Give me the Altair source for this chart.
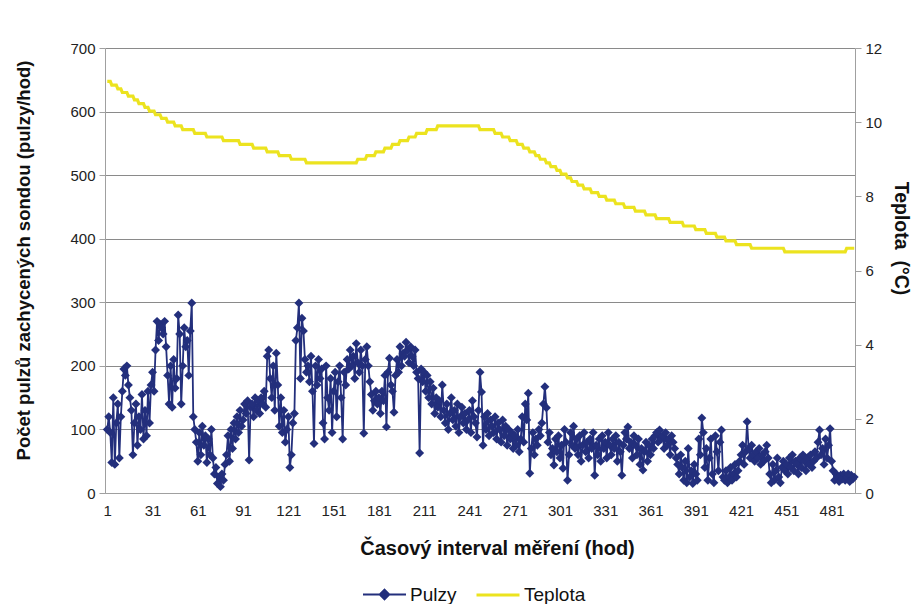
import altair as alt
import pandas as pd

# Pulzy (pulzy/hod) – one value per hour
pulzy = [
    100, 120, 95, 48, 150, 45, 110, 140, 55, 120,
    160, 195, 185, 200, 170, 150, 130, 60, 110, 140,
    75, 120, 100, 155, 85, 130, 90, 160, 110, 170,
    190, 160, 225, 270, 240, 265, 260, 250, 270, 230,
    185, 140, 200, 135, 210, 165, 180, 280, 250, 140,
    200, 260, 230, 240, 185, 255, 299, 120, 100, 80,
    50, 95, 60, 105, 75, 90, 48, 85, 60, 100,
    55, 30, 40, 15, 25, 10, 30, 20, 45, 60,
    90, 50, 100, 70, 110, 85, 120, 95, 130, 105,
    115, 140, 125, 145, 52, 135, 140, 120, 150, 130,
    145, 125, 150, 140, 160, 135, 215, 225, 180, 150,
    200, 130, 220, 170, 105, 150, 95, 130, 80, 100,
    120, 40, 60, 110, 125, 240, 260, 299, 180, 275,
    255, 210, 190, 200, 175, 215, 160, 78, 200, 170,
    210, 180, 195, 110, 85, 200, 150, 130, 180, 95,
    160, 190, 120, 175, 200, 150, 85, 190, 170, 210,
    195, 225, 200, 215, 180, 235, 205, 190, 225, 200,
    94, 210, 230, 200, 175, 155, 130, 145, 160, 140,
    150, 125, 160, 145, 185, 104, 190, 212, 170, 160,
    127, 185, 210, 190, 230, 200, 220, 215, 237, 225,
    205, 230, 215, 200, 225, 190, 180, 63, 195, 175,
    190, 160, 185, 150, 175, 140, 165, 125, 150, 135,
    145, 120, 170, 130, 110, 140, 100, 125, 150, 115,
    130, 105, 140, 95, 120, 135, 110, 125, 100, 115,
    130, 95, 145, 120, 110, 88, 130, 190, 159, 75,
    120, 100, 125, 90, 115, 105, 95, 120, 85, 110,
    100, 80, 115, 90, 105, 75, 100, 85, 95, 70,
    90, 75, 100, 65, 85, 120, 80, 140, 115, 157,
    31, 70, 95, 60, 85, 75, 100, 90, 110, 140,
    167, 134, 80, 95, 60, 70, 44, 85, 65, 90,
    55, 75, 39, 100, 80, 20, 60, 95, 75, 105,
    70, 85, 60, 90, 50, 75, 95, 65, 80, 55,
    85, 70, 95, 28, 75, 60, 85, 50, 90, 70,
    80, 55, 95, 75, 60, 85, 70, 90, 50, 80,
    65, 28, 75, 95, 85, 104, 70, 80, 55, 90,
    75, 60, 85, 45, 70, 36, 65, 80, 50, 75,
    60, 85, 70, 90, 95, 80, 99, 85, 90, 70,
    95, 75, 85, 60, 90, 80, 70, 55, 45, 30,
    60, 40, 20, 50, 16, 70, 25, 35, 15, 45,
    30, 20, 85, 60, 118, 95, 40, 70, 20, 55,
    85, 30, 16, 90, 65, 35, 80, 99, 25, 20,
    35, 16, 25, 40, 20, 30, 45, 25, 35, 50,
    60, 75, 45, 65, 112, 70, 55, 75, 60, 50,
    65, 55, 70, 45, 60, 50, 65, 75, 55, 30,
    16, 45, 20, 35, 55, 25, 16, 40, 50, 35,
    45, 30, 55, 40, 60, 35, 50, 45, 30, 55,
    40, 60, 50, 35, 55, 45, 60, 40, 50, 65,
    55, 80, 99, 60, 70, 45, 85, 55, 75, 101,
    50, 35, 20, 30, 25, 18, 28, 22, 30, 20,
    25, 30, 18, 28, 22, 25,
]

# Teplota (°C) – one value per hour
teplota = [
    11.1, 11.1, 11.1,
    11.0, 11.0, 11.0, 11.0,
    10.9, 10.9, 10.9,
    10.8, 10.8, 10.8, 10.8,
    10.7, 10.7, 10.7, 10.7,
    10.6, 10.6, 10.6,
    10.5, 10.5, 10.5, 10.5,
    10.4, 10.4, 10.4,
    10.3, 10.3, 10.3, 10.3,
    10.2, 10.2, 10.2, 10.2,
    10.1, 10.1, 10.1, 10.1,
    10.0, 10.0, 10.0, 10.0, 10.0,
    9.9, 9.9, 9.9, 9.9, 9.9,
    9.8, 9.8, 9.8, 9.8, 9.8, 9.8, 9.8, 9.8,
    9.7, 9.7, 9.7, 9.7, 9.7, 9.7, 9.7, 9.7,
    9.6, 9.6, 9.6, 9.6, 9.6, 9.6, 9.6, 9.6, 9.6, 9.6, 9.6,
    9.5, 9.5, 9.5, 9.5, 9.5, 9.5, 9.5, 9.5, 9.5, 9.5, 9.5,
    9.4, 9.4, 9.4, 9.4, 9.4, 9.4, 9.4, 9.4, 9.4,
    9.3, 9.3, 9.3, 9.3, 9.3, 9.3, 9.3, 9.3, 9.3,
    9.2, 9.2, 9.2, 9.2, 9.2, 9.2, 9.2, 9.2,
    9.1, 9.1, 9.1, 9.1, 9.1, 9.1, 9.1, 9.1,
    9.0, 9.0, 9.0, 9.0, 9.0, 9.0, 9.0, 9.0, 9.0, 9.0,
    8.9, 8.9, 8.9, 8.9, 8.9, 8.9, 8.9, 8.9, 8.9, 8.9,
    8.9, 8.9, 8.9, 8.9, 8.9, 8.9, 8.9, 8.9, 8.9, 8.9,
    8.9, 8.9, 8.9, 8.9, 8.9, 8.9, 8.9, 8.9, 8.9, 8.9,
    8.9, 8.9, 8.9, 8.9,
    9.0, 9.0, 9.0, 9.0, 9.0, 9.0,
    9.1, 9.1, 9.1, 9.1, 9.1, 9.1,
    9.2, 9.2, 9.2, 9.2, 9.2, 9.2,
    9.3, 9.3, 9.3, 9.3, 9.3,
    9.4, 9.4, 9.4, 9.4, 9.4,
    9.5, 9.5, 9.5, 9.5, 9.5, 9.5,
    9.6, 9.6, 9.6, 9.6, 9.6,
    9.7, 9.7, 9.7, 9.7, 9.7, 9.7, 9.7,
    9.8, 9.8, 9.8, 9.8, 9.8, 9.8, 9.8,
    9.9, 9.9, 9.9, 9.9, 9.9, 9.9, 9.9, 9.9, 9.9, 9.9,
    9.9, 9.9, 9.9, 9.9, 9.9, 9.9, 9.9, 9.9, 9.9, 9.9,
    9.9, 9.9, 9.9, 9.9, 9.9, 9.9, 9.9, 9.9,
    9.8, 9.8, 9.8, 9.8, 9.8, 9.8, 9.8, 9.8, 9.8, 9.8,
    9.7, 9.7, 9.7, 9.7, 9.7,
    9.6, 9.6, 9.6, 9.6, 9.6,
    9.5, 9.5, 9.5, 9.5, 9.5,
    9.4, 9.4, 9.4, 9.4,
    9.3, 9.3, 9.3, 9.3,
    9.2, 9.2, 9.2, 9.2,
    9.1, 9.1, 9.1,
    9.0, 9.0, 9.0, 9.0,
    8.9, 8.9, 8.9,
    8.8, 8.8, 8.8, 8.8,
    8.7, 8.7, 8.7,
    8.6, 8.6, 8.6, 8.6,
    8.5, 8.5, 8.5,
    8.4, 8.4, 8.4, 8.4,
    8.3, 8.3, 8.3, 8.3,
    8.2, 8.2, 8.2, 8.2, 8.2,
    8.1, 8.1, 8.1, 8.1, 8.1,
    8.0, 8.0, 8.0, 8.0, 8.0,
    7.9, 7.9, 7.9, 7.9, 7.9, 7.9,
    7.8, 7.8, 7.8, 7.8, 7.8, 7.8,
    7.7, 7.7, 7.7, 7.7, 7.7, 7.7, 7.7,
    7.6, 7.6, 7.6, 7.6, 7.6, 7.6, 7.6,
    7.5, 7.5, 7.5, 7.5, 7.5, 7.5, 7.5,
    7.4, 7.4, 7.4, 7.4, 7.4, 7.4, 7.4, 7.4, 7.4,
    7.3, 7.3, 7.3, 7.3, 7.3, 7.3, 7.3, 7.3, 7.3,
    7.2, 7.2, 7.2, 7.2, 7.2, 7.2, 7.2, 7.2,
    7.1, 7.1, 7.1, 7.1, 7.1, 7.1, 7.1,
    7.0, 7.0, 7.0, 7.0, 7.0, 7.0, 7.0,
    6.9, 6.9, 6.9, 6.9, 6.9, 6.9,
    6.8, 6.8, 6.8, 6.8, 6.8, 6.8, 6.8,
    6.7, 6.7, 6.7, 6.7, 6.7, 6.7, 6.7, 6.7, 6.7, 6.7,
    6.6, 6.6, 6.6, 6.6, 6.6, 6.6, 6.6, 6.6, 6.6, 6.6,
    6.6, 6.6, 6.6, 6.6, 6.6, 6.6, 6.6, 6.6, 6.6, 6.6,
    6.6, 6.6,
    6.5, 6.5, 6.5, 6.5, 6.5, 6.5, 6.5, 6.5, 6.5, 6.5,
    6.5, 6.5, 6.5, 6.5, 6.5, 6.5, 6.5, 6.5, 6.5, 6.5,
    6.5, 6.5, 6.5, 6.5, 6.5, 6.5, 6.5, 6.5, 6.5, 6.5,
    6.5, 6.5, 6.5, 6.5, 6.5, 6.5, 6.5, 6.5, 6.5, 6.5,
    6.5,
    6.6, 6.6, 6.6, 6.6, 6.6, 6.6,
]

hodiny = list(range(1, len(pulzy) + 1))
x_ticks = [1, 31, 61, 91, 121, 151, 181, 211, 241, 271, 301, 331, 361, 391, 421, 451, 481]
left_ticks = [0, 100, 200, 300, 400, 500, 600, 700]
right_ticks = [0, 2, 4, 6, 8, 10, 12]

n = min(len(pulzy), len(teplota))
df = pd.DataFrame({"hod": hodiny[:n], "pulzy": pulzy[:n], "teplota": teplota[:n]})

NAVY = "#232f7c"
YELLOW = "#ece31f"
FONT = "Liberation Sans"
GRID = "#8a8a8a"
AXC = "#a0a0a0"

PATH_P = "M-1,0L1,0M-0.22,0L0,-0.22L0.22,0L0,0.22Z"
PATH_T = "M-1,0L1,0"

leg_common = dict(orient="none", direction="horizontal", title=None, symbolSize=1849,
                  labelFontSize=19, labelFont=FONT, labelColor="#111", labelOffset=3,
                  padding=0, symbolOpacity=1)

color_p = alt.Color("serie:N", scale=alt.Scale(domain=["Pulzy"], range=[NAVY]),
                    legend=alt.Legend(legendX=257, legendY=524, symbolType=PATH_P,
                                      symbolFillColor=NAVY, symbolStrokeColor=NAVY,
                                      symbolStrokeWidth=2, **leg_common))
color_t = alt.Color("serie:N", scale=alt.Scale(domain=["Teplota"], range=[YELLOW]),
                    legend=alt.Legend(legendX=370, legendY=524, symbolType=PATH_T,
                                      symbolStrokeColor=YELLOW, symbolStrokeWidth=3,
                                      **leg_common))

x = alt.X("hod:Q", scale=alt.Scale(domain=[-0.5, 496.5], nice=False, zero=False),
          axis=alt.Axis(values=x_ticks, format="d", title="Časový interval měření (hod)",
                        grid=False, ticks=False, labelPadding=10, titlePadding=20,
                        titleFontSize=20, titleFontWeight="bold", titleColor="#111",
                        labelFontSize=15, labelColor="#222", domainColor=AXC, titleX=392,
                        labelFlush=False))

y_left = alt.Y("pulzy:Q", scale=alt.Scale(domain=[0, 700], nice=False),
               axis=alt.Axis(values=left_ticks, orient="left",
                             title="Počet pulzů zachycených sondou (pulzy/hod)",
                             grid=True, gridColor=GRID, gridWidth=1, domainColor=AXC,
                             tickColor=AXC, tickSize=6, labelPadding=4, labelFontSize=15,
                             labelColor="#222", titleFontSize=18.5, titleFontWeight="bold",
                             titleColor="#111", titlePadding=36, titleY=212))

y_right = alt.Y("teplota:Q", scale=alt.Scale(domain=[0, 12], nice=False),
                axis=alt.Axis(values=right_ticks, orient="right", title="Teplota\u00a0 (°C)",
                              grid=False, domainColor=AXC, tickColor=AXC, tickSize=6,
                              labelPadding=4, labelFontSize=15, labelColor="#222",
                              titleFontSize=19.5, titleFontWeight="bold", titleColor="#111",
                              titlePadding=9, titleY=190))

base = alt.Chart(df)

pulzy_line = base.transform_calculate(serie="'Pulzy'").mark_line(strokeWidth=1.8).encode(
    x=x, y=y_left, color=color_p)
pulzy_pts = base.mark_point(shape="diamond", filled=True, size=80, color=NAVY, opacity=1).encode(
    x=x, y=y_left)
tep_line = base.transform_calculate(serie="'Teplota'").mark_line(strokeWidth=3.2).encode(
    x=x, y=y_right, color=color_t)

chart = alt.layer(alt.layer(pulzy_line, pulzy_pts), tep_line).resolve_scale(
    y="independent", color="independent"
).properties(
    width=750, height=445,
    autosize=alt.AutoSizeParams(type="none"),
    padding={"left": 105, "top": 48, "right": 60, "bottom": 111},
    background="white",
).configure_view(stroke=None).configure_axis(
    labelFont=FONT, titleFont=FONT
)

chart.save("out.html", embed_options={"renderer": "svg", "actions": False})
